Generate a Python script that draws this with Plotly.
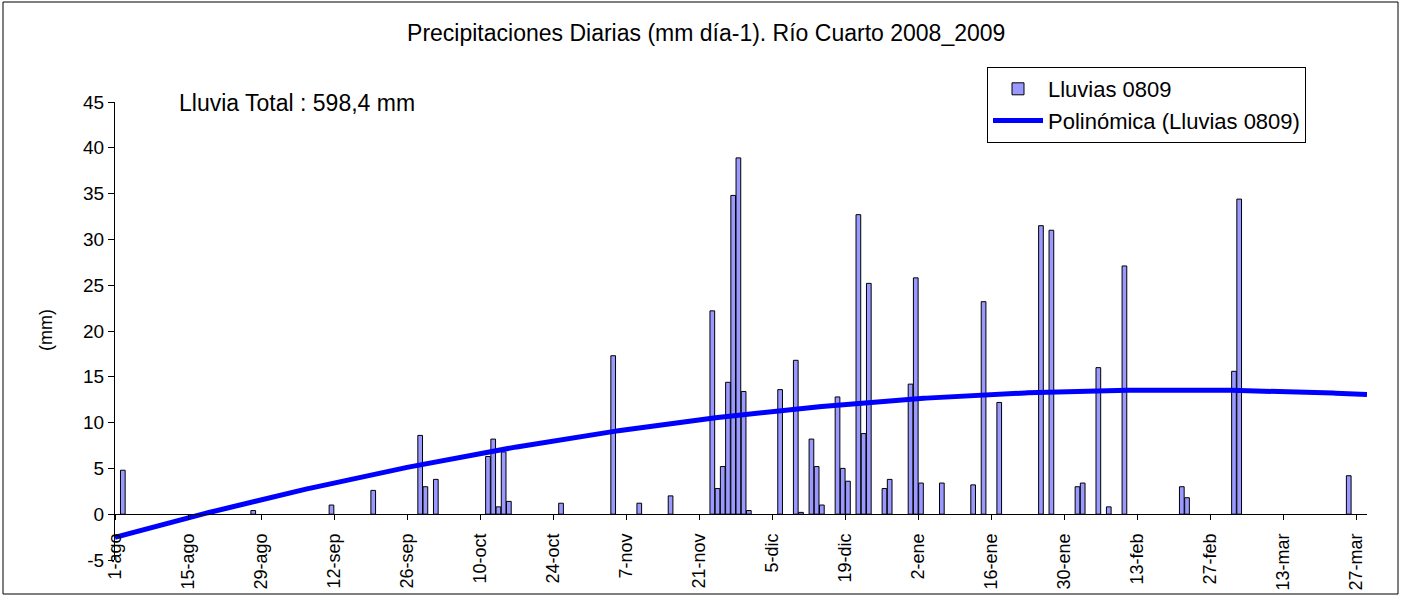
import numpy as np
import pandas as pd
import plotly.graph_objects as go

# Daily rainfall (mm), Río Cuarto, season 2008/2009 -- only rainy days listed
rain_dates = [
    "2008-08-02", "2008-08-27", "2008-09-11", "2008-09-19", "2008-09-28",
    "2008-09-29", "2008-10-01", "2008-10-11", "2008-10-12", "2008-10-13",
    "2008-10-14", "2008-10-15", "2008-10-25", "2008-11-04", "2008-11-09",
    "2008-11-15", "2008-11-23", "2008-11-24", "2008-11-25", "2008-11-26",
    "2008-11-27", "2008-11-28", "2008-11-29", "2008-11-30", "2008-12-06",
    "2008-12-09", "2008-12-10", "2008-12-12", "2008-12-13", "2008-12-14",
    "2008-12-17", "2008-12-18", "2008-12-19", "2008-12-21", "2008-12-22",
    "2008-12-23", "2008-12-26", "2008-12-27", "2008-12-31", "2009-01-01",
    "2009-01-02", "2009-01-06", "2009-01-12", "2009-01-14", "2009-01-17",
    "2009-01-25", "2009-01-27", "2009-02-01", "2009-02-02", "2009-02-05",
    "2009-02-07", "2009-02-10", "2009-02-21", "2009-02-22", "2009-03-03",
    "2009-03-04", "2009-03-25",
]
rain_mm = [
    4.8, 0.4, 1.0, 2.6, 8.6,
    3.0, 3.8, 6.3, 8.2, 0.8,
    6.8, 1.4, 1.2, 17.3, 1.2,
    2.0, 22.2, 2.8, 5.2, 14.4,
    34.8, 38.9, 13.4, 0.4, 13.6,
    16.8, 0.2, 8.2, 5.2, 1.0,
    12.8, 5.0, 3.6, 32.7, 8.8,
    25.2, 2.8, 3.8, 14.2, 25.8,
    3.4, 3.4, 3.2, 23.2, 12.2,
    31.5, 31.0, 3.0, 3.4, 16.0,
    0.8, 27.1, 3.0, 1.8, 15.6,
    34.4, 4.2,
]

# Category axis: every 14 days from 1 August
tick_dates = pd.date_range("2008-08-01", periods=18, freq="14D")
tick_labels = [
    "1-ago", "15-ago", "29-ago", "12-sep", "26-sep", "10-oct", "24-oct",
    "7-nov", "21-nov", "5-dic", "19-dic", "2-ene", "16-ene", "30-ene",
    "13-feb", "27-feb", "13-mar", "27-mar",
]
y_ticks = [-5, 0, 5, 10, 15, 20, 25, 30, 35, 40, 45]

axis_start = pd.Timestamp("2008-08-01")
axis_end = pd.Timestamp("2009-03-29")
total_mm = round(sum(rain_mm), 1)

# Second-order polynomial trend fitted on the rainy days (day index from 1 Aug)
dates = pd.to_datetime(rain_dates)
day_idx = (dates - axis_start).days.to_numpy() + 0.5
coef = np.polyfit(day_idx, np.array(rain_mm), 2)
t = np.linspace(0, (axis_end - axis_start).days, 481)
trend_y = np.polyval(coef, t)
trend_x = axis_start + pd.to_timedelta(t, unit="D")

FONT = "Liberation Sans, Arial, sans-serif"

fig = go.Figure()
fig.add_trace(go.Bar(
    x=dates, y=rain_mm, name="Lluvias 0809",
    xperiod=86400000, xperiodalignment="middle",
    marker=dict(color="#9999FF", line=dict(color="black", width=1)),
))
fig.add_trace(go.Scatter(
    x=trend_x, y=trend_y, mode="lines", name="Polinómica (Lluvias 0809)",
    line=dict(color="#0000FF", width=5),
))

fig.update_layout(
    width=1404, height=597,
    margin=dict(l=115, r=37, t=102, b=37, autoexpand=False),
    paper_bgcolor="white", plot_bgcolor="white",
    font=dict(family=FONT, color="black", size=18),
    bargap=0.1,
    title=dict(
        text="Precipitaciones Diarias (mm día-1). Río Cuarto 2008_2009",
        x=0.503, xref="container", xanchor="center",
        y=1 - 33 / 597, yref="container", yanchor="middle",
        font=dict(family=FONT, size=23, color="black"),
    ),
    legend=dict(
        x=(987 - 115) / 1252, y=(560 - 67) / 458,
        xanchor="left", yanchor="top",
        bordercolor="black", borderwidth=1, bgcolor="white",
        font=dict(family=FONT, size=22, color="black"),
        itemwidth=50, tracegroupgap=4,
    ),
    showlegend=True,
)

fig.update_xaxes(
    type="date", range=[axis_start, axis_end],
    anchor="free", position=0.1, automargin=False,
    showline=True, linecolor="black", linewidth=1,
    showgrid=False, zeroline=False,
    tickmode="array", tickvals=tick_dates, ticktext=tick_labels,
    tickangle=-90, ticks="outside", ticklen=5, tickcolor="black",
    ticklabelstandoff=6,
    tickfont=dict(family=FONT, size=18, color="black"),
)
fig.update_yaxes(
    range=[-5, 45], automargin=False,
    tickmode="array", tickvals=y_ticks, ticktext=[str(v) for v in y_ticks],
    showline=True, linecolor="black", linewidth=1,
    showgrid=False, zeroline=False,
    ticks="outside", ticklen=6, tickcolor="black",
    tickfont=dict(family=FONT, size=19, color="black"),
)

# Axis title and season total
fig.add_annotation(
    text="(mm)", xref="paper", yref="paper",
    x=(46 - 115) / 1252, y=(560 - 330) / 458,
    xanchor="center", yanchor="middle",
    textangle=-90, showarrow=False,
    font=dict(family=FONT, size=18, color="black"),
)
fig.add_annotation(
    text=f"Lluvia Total : {total_mm:.1f} mm".replace(".", ","),
    xref="paper", yref="paper",
    x=(177 - 115) / 1252, y=(560 - 103) / 458,
    xanchor="left", yanchor="middle", showarrow=False,
    font=dict(family=FONT, size=23, color="black"),
)

# Chart frame
fig.add_shape(
    type="rect", xref="paper", yref="paper",
    x0=(3 - 115) / 1252, x1=(1398 - 115) / 1252,
    y0=(560 - 594) / 458, y1=(560 - 2) / 458,
    line=dict(color="black", width=1), fillcolor="rgba(0,0,0,0)",
    layer="below",
)

fig.write_html("out.html")
